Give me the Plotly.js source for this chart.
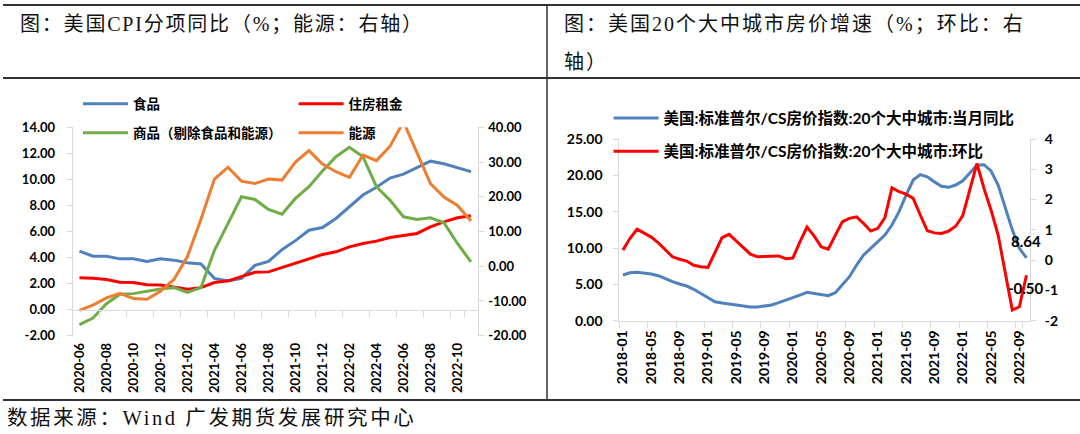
<!DOCTYPE html>
<html>
<head>
<meta charset="utf-8">
<script src="https://cdn.plot.ly/plotly-3.0.1.min.js"></script>
<style>
html,body{margin:0;padding:0;background:#fff;}
#chart{width:1080px;height:434px;}
</style>
</head>
<body>
<div id="chart"></div>
<script>
// ---------- Left chart: US CPI components YoY (%) ----------
const cpiMonths = ['2020-06','2020-07','2020-08','2020-09','2020-10','2020-11','2020-12',
  '2021-01','2021-02','2021-03','2021-04','2021-05','2021-06','2021-07','2021-08','2021-09','2021-10','2021-11','2021-12',
  '2022-01','2022-02','2022-03','2022-04','2022-05','2022-06','2022-07','2022-08','2022-09','2022-10','2022-11'];
const cpiFood = [4.5,4.1,4.1,3.9,3.9,3.7,3.9,3.8,3.6,3.5,2.4,2.2,2.4,3.4,3.7,4.6,5.3,6.1,6.3,7.0,7.9,8.8,9.4,10.1,10.4,10.9,11.4,11.2,10.9,10.6];
const cpiShelter = [2.44,2.41,2.31,2.10,2.08,1.92,1.90,1.74,1.56,1.69,2.08,2.21,2.56,2.87,2.90,3.23,3.54,3.92,4.23,4.44,4.82,5.08,5.26,5.54,5.72,5.85,6.36,6.74,7.05,7.21];
const cpiCoreGoods = [-1.15,-0.64,0.46,1.18,1.23,1.41,1.59,1.69,1.33,1.69,4.56,6.6,8.67,8.46,7.69,7.33,8.54,9.44,10.64,11.74,12.46,11.74,9.44,8.41,7.13,6.92,7.05,6.67,5.08,3.67];
const cpiEnergy = [-12.7,-11.2,-9.1,-7.8,-9.3,-9.5,-7.2,-3.8,2.8,13.5,25.1,28.5,24.5,23.8,25.1,24.8,30.0,33.3,29.4,27.2,25.6,32.0,30.4,34.5,41.6,32.9,23.8,19.9,17.5,13.0];
const cpiXTickLabels = ['2020-06','2020-08','2020-10','2020-12','2021-02','2021-04','2021-06','2021-08','2021-10','2021-12','2022-02','2022-04','2022-06','2022-08','2022-10'];
const cpiLeftTicks = [-2,0,2,4,6,8,10,12,14];
const cpiLeftTickText = ['-2.00','0.00','2.00','4.00','6.00','8.00','10.00','12.00','14.00'];
const cpiRightTicks = [-20,-10,0,10,20,30,40];
const cpiRightTickText = ['-20.00','-10.00','0.00','10.00','20.00','30.00','40.00'];
const cpiNames = ['食品','住房租金','商品（剔除食品和能源）','能源'];

// ---------- Right chart: S&P/CS 20-city home prices ----------
const hpMonths = ['2018-01','2018-02','2018-03','2018-04','2018-05','2018-06','2018-07','2018-08','2018-09','2018-10','2018-11','2018-12',
  '2019-01','2019-02','2019-03','2019-04','2019-05','2019-06','2019-07','2019-08','2019-09','2019-10','2019-11','2019-12',
  '2020-01','2020-02','2020-03','2020-04','2020-05','2020-06','2020-07','2020-08','2020-09','2020-10','2020-11','2020-12',
  '2021-01','2021-02','2021-03','2021-04','2021-05','2021-06','2021-07','2021-08','2021-09','2021-10','2021-11','2021-12',
  '2022-01','2022-02','2022-03','2022-04','2022-05','2022-06','2022-07','2022-08','2022-09','2022-10'];
const hpYoY = [6.29,6.6,6.65,6.56,6.42,6.19,5.74,5.37,5.05,4.77,4.32,3.77,3.16,2.61,2.43,2.34,2.16,2.02,1.88,1.88,1.98,2.16,2.48,2.8,
  3.16,3.53,3.9,3.77,3.67,3.44,3.85,4.91,6.05,7.66,9.04,9.96,10.87,11.79,13.16,15.0,17.29,19.35,20.1,19.8,19.1,18.5,18.35,18.67,
  19.26,20.36,21.4,21.46,20.6,18.67,15.7,12.5,9.96,8.64];
const hpMoM = [0.33,0.72,1.02,0.9,0.76,0.57,0.33,0.11,0.03,-0.03,-0.17,-0.22,-0.24,0.25,0.74,0.85,0.63,0.41,0.2,0.11,0.12,0.14,0.14,0.05,
  0.07,0.6,1.09,0.8,0.44,0.36,0.83,1.27,1.38,1.43,1.21,0.96,1.05,1.4,2.39,2.26,2.18,2.04,1.49,0.97,0.9,0.88,0.96,1.12,
  1.47,2.37,3.19,2.37,1.65,0.83,-0.38,-1.65,-1.54,-0.50];
const hpXTickLabels = ['2018-01','2018-05','2018-09','2019-01','2019-05','2019-09','2020-01','2020-05','2020-09','2021-01','2021-05','2021-09','2022-01','2022-05','2022-09'];
const hpLeftTicks = [0,5,10,15,20,25];
const hpLeftTickText = ['0.00','5.00','10.00','15.00','20.00','25.00'];
const hpRightTicks = [-2,-1,0,1,2,3,4];
const hpRightTickText = ['-2','-1','0','1','2','3','4'];
const hpNames = ['美国:标准普尔/CS房价指数:20个大中城市:当月同比','美国:标准普尔/CS房价指数:20个大中城市:环比'];

// ---------- Texts ----------
const titleLeft = '图：美国CPI分项同比（%；能源：右轴）';
const titleRight1 = '图：美国20个大中城市房价增速（%；环比：右';
const titleRight2 = '轴）';
const sourceText = '数据来源：Wind 广发期货发展研究中心';

// ---------- geometry helpers (pixels -> paper) ----------
const W = 1080, H = 434;
const px = v => v / W;
const py = v => (H - v) / H;

const BLUE = '#4f81bd', RED = '#ff0000', GREEN = '#70ad47', ORANGE = '#ed7d31';
const AXC = '#d9d9d9';
const tickFontL = {family: 'Lato, "Noto Sans CJK SC", sans-serif', size: 13, color: '#000', weight: 700};
const tickFontR = {family: 'Lato, "Noto Sans CJK SC", sans-serif', size: 14, color: '#000', weight: 700};
const legFontL = {family: 'Lato, "Noto Sans CJK SC", sans-serif', size: 13.5, color: '#000', weight: 700};
const legFontR = {family: 'Lato, "Noto Sans CJK SC", sans-serif', size: 15.5, color: '#000', weight: 700};
const textFont = {family: '"Liberation Serif", "Noto Sans CJK SC", serif', size: 20, color: '#111'};
const srcFont = {family: '"Liberation Serif", "Noto Sans CJK SC", serif', size: 20.5, color: '#111'};

const L = {x0: 72.7, x1: 477.7, yTop: 127.3, yBot: 335.7};
const R = {x0: 619.4, x1: 1030, yTop: 139, yBot: 320.7};
const leftZeroY = L.yBot - (0 - (-2)) / 16 * (L.yBot - L.yTop);

const traces = [
  {x: cpiMonths, y: cpiFood, name: cpiNames[0], type: 'scatter', mode: 'lines', xaxis: 'x', yaxis: 'y',
   line: {color: BLUE, width: 3}, legend: 'legend'},
  {x: cpiMonths, y: cpiShelter, name: cpiNames[1], type: 'scatter', mode: 'lines', xaxis: 'x', yaxis: 'y',
   line: {color: RED, width: 3}, legend: 'legend2'},
  {x: cpiMonths, y: cpiCoreGoods, name: cpiNames[2], type: 'scatter', mode: 'lines', xaxis: 'x', yaxis: 'y',
   line: {color: GREEN, width: 3}, legend: 'legend3'},
  {x: cpiMonths, y: cpiEnergy, name: cpiNames[3], type: 'scatter', mode: 'lines', xaxis: 'x', yaxis: 'y2',
   line: {color: ORANGE, width: 3}, legend: 'legend4'},
  {x: hpMonths, y: hpYoY, name: hpNames[0], type: 'scatter', mode: 'lines', xaxis: 'x2', yaxis: 'y3',
   line: {color: BLUE, width: 3}, legend: 'legend5'},
  {x: hpMonths, y: hpMoM, name: hpNames[1], type: 'scatter', mode: 'lines', xaxis: 'x2', yaxis: 'y4',
   line: {color: RED, width: 3}, legend: 'legend6'}
];

function leg(xLine, yMid, font) {
  return {x: px(xLine - 5), y: py(yMid), xanchor: 'left', yanchor: 'middle', orientation: 'v',
          bgcolor: 'rgba(0,0,0,0)', borderwidth: 0, font: font, itemwidth: 45, itemclick: false};
}

const lastHp = hpMonths.length - 1;
const layout = {
  width: W, height: H,
  margin: {l: 0, r: 0, t: 0, b: 0, pad: 0},
  paper_bgcolor: '#fff', plot_bgcolor: 'rgba(0,0,0,0)',
  showlegend: true,
  legend: leg(83, 104, legFontL),
  legend2: leg(298.6, 104, legFontL),
  legend3: leg(83, 133, legFontL),
  legend4: leg(298.6, 133, legFontL),
  legend5: leg(613.6, 118.3, legFontR),
  legend6: leg(613.6, 151.7, legFontR),
  xaxis: {
    domain: [px(L.x0), px(L.x1)], anchor: 'free', position: py(leftZeroY),
    type: 'category', range: [-0.5, cpiMonths.length - 0.5],
    tickmode: 'array', tickvals: cpiXTickLabels, ticktext: cpiXTickLabels, tickangle: -90,
    tickson: 'boundaries', ticks: 'outside', ticklen: 6, tickcolor: AXC, tickwidth: 1,
    showline: true, linecolor: AXC, linewidth: 1, showgrid: false, zeroline: false,
    tickfont: tickFontL, ticklabelstandoff: 27, fixedrange: true
  },
  yaxis: {
    domain: [py(L.yBot), py(L.yTop)], anchor: 'x', range: [-2, 14],
    tickmode: 'array', tickvals: cpiLeftTicks, ticktext: cpiLeftTickText,
    ticks: 'outside', ticklen: 5, tickcolor: AXC, showline: true, linecolor: AXC, linewidth: 1,
    showgrid: false, zeroline: false, tickfont: tickFontL, ticklabelstandoff: 9, fixedrange: true
  },
  yaxis2: {
    overlaying: 'y', side: 'right', anchor: 'x', range: [-20, 40],
    tickmode: 'array', tickvals: cpiRightTicks, ticktext: cpiRightTickText,
    ticks: 'outside', ticklen: 5, tickcolor: AXC, showline: true, linecolor: AXC, linewidth: 1,
    showgrid: false, zeroline: false, tickfont: tickFontL, ticklabelstandoff: 2, fixedrange: true
  },
  xaxis2: {
    domain: [px(R.x0), px(R.x1)], anchor: 'y3',
    type: 'category', range: [-0.5, hpMonths.length - 0.5],
    tickmode: 'array', tickvals: hpXTickLabels, ticktext: hpXTickLabels, tickangle: -90,
    tickson: 'boundaries', ticks: 'outside', ticklen: 6, tickcolor: AXC, tickwidth: 1,
    showline: true, linecolor: AXC, linewidth: 1, showgrid: false, zeroline: false,
    tickfont: tickFontR, ticklabelstandoff: 3, fixedrange: true
  },
  yaxis3: {
    domain: [py(R.yBot), py(R.yTop)], anchor: 'x2', range: [0, 25],
    tickmode: 'array', tickvals: hpLeftTicks, ticktext: hpLeftTickText,
    ticks: 'outside', ticklen: 5, tickcolor: AXC, showline: true, linecolor: AXC, linewidth: 1,
    showgrid: false, zeroline: false, tickfont: tickFontR, ticklabelstandoff: 8, fixedrange: true
  },
  yaxis4: {
    overlaying: 'y3', side: 'right', anchor: 'x2', range: [-2, 4],
    tickmode: 'array', tickvals: hpRightTicks, ticktext: hpRightTickText,
    ticks: 'outside', ticklen: 5, tickcolor: AXC, showline: true, linecolor: AXC, linewidth: 1,
    showgrid: false, zeroline: false, tickfont: tickFontR, ticklabelstandoff: 6, fixedrange: true
  },
  shapes: [
    {type: 'line', xref: 'paper', yref: 'paper', x0: px(3), x1: 1, y0: py(5), y1: py(5), line: {color: '#333', width: 2}},
    {type: 'line', xref: 'paper', yref: 'paper', x0: px(3), x1: 1, y0: py(78), y1: py(78), line: {color: '#333', width: 2}},
    {type: 'line', xref: 'paper', yref: 'paper', x0: px(3), x1: 1, y0: py(400), y1: py(400), line: {color: '#333', width: 2}},
    {type: 'line', xref: 'paper', yref: 'paper', x0: px(547), x1: px(547), y0: py(5), y1: py(400), line: {color: '#333', width: 1.5}}
  ],
  annotations: [
    {xref: 'paper', yref: 'paper', x: px(18), y: py(24), xanchor: 'left', yanchor: 'middle', showarrow: false,
     text: '<span style="letter-spacing:1.8px">' + titleLeft + '</span>', font: textFont},
    {xref: 'paper', yref: 'paper', x: px(562), y: py(24), xanchor: 'left', yanchor: 'middle', showarrow: false,
     text: '<span style="letter-spacing:2px">' + titleRight1 + '</span>', font: textFont},
    {xref: 'paper', yref: 'paper', x: px(562), y: py(62), xanchor: 'left', yanchor: 'middle', showarrow: false,
     text: '<span style="letter-spacing:2px">' + titleRight2 + '</span>', font: textFont},
    {xref: 'paper', yref: 'paper', x: px(5), y: py(418), xanchor: 'left', yanchor: 'middle', showarrow: false,
     text: '<span style="letter-spacing:2.6px">' + sourceText + '</span>', font: srcFont},
    {xref: 'x2', yref: 'y3', x: hpMonths[lastHp], y: hpYoY[lastHp], xanchor: 'center', yanchor: 'bottom', yshift: 6, showarrow: false,
     text: hpYoY[lastHp].toFixed(2), font: {family: 'Lato, sans-serif', size: 15, color: '#000', weight: 700}},
    {xref: 'x2', yref: 'y4', x: hpMonths[lastHp], y: hpMoM[lastHp], xanchor: 'center', yanchor: 'top', yshift: -2, showarrow: false,
     text: hpMoM[lastHp].toFixed(2), font: {family: 'Lato, sans-serif', size: 15, color: '#000', weight: 700}}
  ]
};

Plotly.newPlot('chart', traces, layout, {staticPlot: true, displayModeBar: false});
</script>
</body>
</html>
